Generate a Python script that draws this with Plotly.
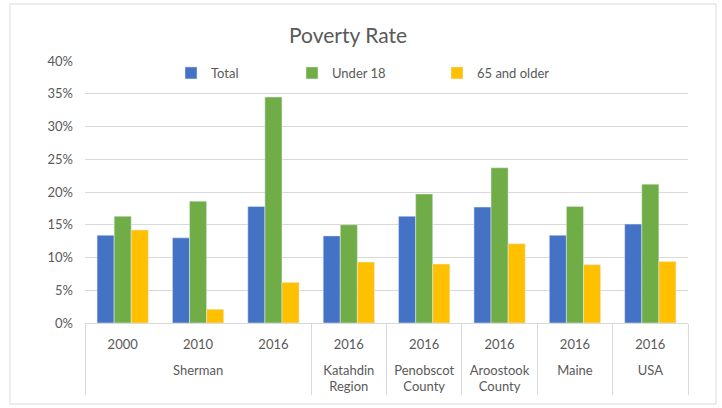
import plotly.graph_objects as go

groups = ["Sherman", "Sherman", "Sherman", "Katahdin<br>Region", "Penobscot<br>County",
          "Aroostook<br>County", "Maine", "USA"]
years = ["2000", "2010", "2016", "2016", "2016", "2016", "2016", "2016"]
total = [0.134, 0.130, 0.178, 0.133, 0.163, 0.177, 0.134, 0.151]
under18 = [0.163, 0.186, 0.345, 0.150, 0.197, 0.237, 0.178, 0.212]
older65 = [0.142, 0.021, 0.062, 0.093, 0.090, 0.121, 0.089, 0.094]

series = [("Total", total, "#4472C4", "legend"),
          ("Under 18", under18, "#70AD47", "legend2"),
          ("65 and older", older65, "#FFC000", "legend3")]

# extra blank line under the year labels to give the group row the reference spacing
year_labels = [y + "<br> " for y in years]

fig = go.Figure()
for name, vals, color, lg in series:
    fig.add_trace(go.Bar(x=[groups, year_labels], y=vals, name=name, marker_color=color,
                         legend=lg, showlegend=True))

W, H = 722, 408
L, R, T, B = 85, 34, 61, 85
pw = W - L - R
ph = H - T - B

def px2x(px):
    return (px - L) / pw

def py2y(py):
    return (H - B - py) / ph

legfont = dict(family="Lato, Open Sans, sans-serif", size=13, color="#595959")
def leg(xpx):
    return dict(x=px2x(xpx), y=py2y(73), xanchor="left", yanchor="middle",
                orientation="h", bgcolor="rgba(0,0,0,0)", font=legfont,
                itemwidth=30, visible=True)

fig.update_layout(
    width=W, height=H,
    margin=dict(l=L, r=R, t=T, b=B),
    paper_bgcolor="white", plot_bgcolor="white",
    showlegend=True,
    font=dict(family="Lato, Open Sans, sans-serif", color="#595959", size=13),
    title=dict(text="Poverty Rate", x=348 / W, xanchor="center",
               y=1 - 36 / H, yanchor="middle",
               font=dict(size=21, color="#595959")),
    barmode="group", bargap=0.32, bargroupgap=0,
    legend=leg(171), legend2=leg(292), legend3=leg(437),
    yaxis=dict(range=[0, 0.4], dtick=0.05, tickformat=".0%", gridcolor="#D9D9D9",
               gridwidth=1, zeroline=False, showline=False, ticks="",
               tickfont=dict(size=13, color="#595959"), ticklabelstandoff=11),
    xaxis=dict(type="multicategory", showline=True, linecolor="#D9D9D9",
               showdividers=True, dividercolor="#D9D9D9", dividerwidth=1,
               tickfont=dict(size=13, color="#595959"), ticks="",
               ticklabelstandoff=9),
    shapes=[dict(type="rect", xref="paper", yref="paper",
                 x0=(10 - L) / pw, x1=(716 - L) / pw,
                 y0=(H - B - 404) / ph, y1=(H - B - 4) / ph,
                 line=dict(color="#D9D9D9", width=1), fillcolor="rgba(0,0,0,0)",
                 layer="below")],
)

fig.write_html("out.html", config={"displayModeBar": False},
               post_script="document.body.style.margin='0';")
